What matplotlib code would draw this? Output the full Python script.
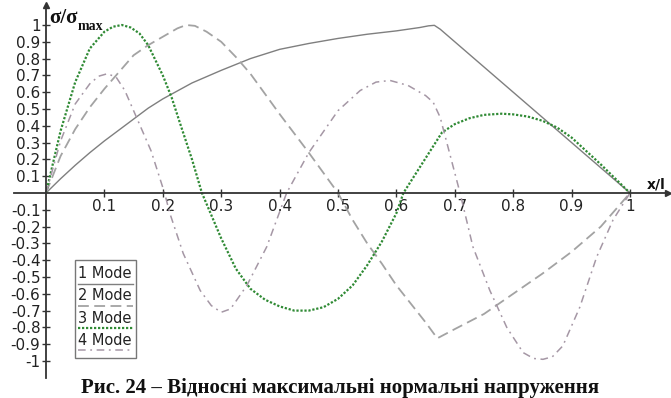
import matplotlib
matplotlib.use("Agg")
import matplotlib.pyplot as plt
from matplotlib.lines import Line2D
from matplotlib.patches import Rectangle

# ---------------- data ----------------
x_ticks = [0.1, 0.2, 0.3, 0.4, 0.5, 0.6, 0.7, 0.8, 0.9, 1.0]
x_tick_labels = ["0.1", "0.2", "0.3", "0.4", "0.5", "0.6", "0.7", "0.8", "0.9", "1"]
y_ticks = [-1, -0.9, -0.8, -0.7, -0.6, -0.5, -0.4, -0.3, -0.2, -0.1,
           0.1, 0.2, 0.3, 0.4, 0.5, 0.6, 0.7, 0.8, 0.9, 1]
y_tick_labels = ["-1", "-0.9", "-0.8", "-0.7", "-0.6", "-0.5", "-0.4", "-0.3", "-0.2", "-0.1",
                 "0.1", "0.2", "0.3", "0.4", "0.5", "0.6", "0.7", "0.8", "0.9", "1"]

mode_names = ["1 Mode", "2 Mode", "3 Mode", "4 Mode"]

x1 = [0, 0.025, 0.05, 0.075, 0.1, 0.125, 0.15, 0.175, 0.2, 0.25, 0.3, 0.35, 0.4,
      0.45, 0.5, 0.55, 0.6, 0.64, 0.655, 0.665, 0.675, 1.0]
y1 = [0, 0.085, 0.165, 0.24, 0.31, 0.375, 0.44, 0.505, 0.56, 0.655, 0.73, 0.80, 0.855,
      0.89, 0.92, 0.945, 0.965, 0.985, 0.995, 0.998, 0.975, 0.0]

x2 = [0, 0.025, 0.05, 0.075, 0.1, 0.125, 0.15, 0.175, 0.2, 0.225, 0.24, 0.255, 0.275,
      0.3, 0.325, 0.35, 0.375, 0.4, 0.425, 0.45, 0.475, 0.5, 0.525, 0.55, 0.575,
      0.6, 0.625, 0.65, 0.67, 0.7, 0.75, 0.8, 0.85, 0.9, 0.95, 1.0]
y2 = [0, 0.22, 0.38, 0.51, 0.62, 0.72, 0.82, 0.88, 0.93, 0.98, 1.0, 0.995, 0.96,
      0.90, 0.81, 0.71, 0.59, 0.47, 0.355, 0.24, 0.12, 0.0, -0.16, -0.30, -0.42,
      -0.55, -0.66, -0.77, -0.865, -0.81, -0.72, -0.60, -0.48, -0.35, -0.20, 0.0]

x3 = [0, 0.025, 0.05, 0.075, 0.1, 0.115, 0.13, 0.145, 0.16, 0.175, 0.2, 0.215, 0.23,
      0.25, 0.267, 0.3, 0.325, 0.35, 0.375, 0.4, 0.425, 0.45, 0.475, 0.5, 0.525,
      0.55, 0.575, 0.6, 0.612, 0.678, 0.7, 0.725, 0.75, 0.78, 0.8, 0.825, 0.85,
      0.875, 0.9, 0.925, 0.95, 0.975, 1.0]
y3 = [0, 0.37, 0.66, 0.86, 0.96, 0.99, 1.0, 0.985, 0.95, 0.88, 0.70, 0.57, 0.41,
      0.20, 0.0, -0.27, -0.45, -0.57, -0.635, -0.675, -0.70, -0.70, -0.68, -0.63, -0.55,
      -0.43, -0.29, -0.12, 0.0, 0.36, 0.41, 0.445, 0.465, 0.472, 0.468, 0.455, 0.43,
      0.39, 0.33, 0.25, 0.17, 0.085, 0.0]

x4 = [0, 0.025, 0.05, 0.075, 0.09, 0.105, 0.12, 0.135, 0.155, 0.18, 0.203, 0.212,
      0.235, 0.264, 0.283, 0.30, 0.316, 0.344, 0.378, 0.412, 0.45, 0.5, 0.538, 0.565,
      0.589, 0.62, 0.65, 0.663, 0.675, 0.709, 0.731, 0.76, 0.789, 0.817, 0.835, 0.851,
      0.867, 0.885, 0.914, 0.943, 0.971, 1.0]
y4 = [0, 0.31, 0.53, 0.65, 0.695, 0.71, 0.69, 0.61, 0.45, 0.25, 0.0, -0.12,
      -0.36, -0.58, -0.67, -0.71, -0.69, -0.55, -0.32, 0.0, 0.24, 0.49, 0.61, 0.66,
      0.67, 0.64, 0.58, 0.54, 0.45, 0.0, -0.32, -0.58, -0.80, -0.95, -0.985, -0.99,
      -0.975, -0.91, -0.68, -0.38, -0.16, 0.0]

# ---------------- styles ----------------
c1, c2, c3, c4 = "#7f7f7f", "#a3a3a3", "#2f8a34", "#a597a5"
st1 = dict(color=c1, lw=1.0, linestyle="-")
st2 = dict(color=c2, lw=1.3, linestyle=(0, (6, 3)))
st3 = dict(color=c3, lw=1.6, linestyle=(0, (1.0, 0.8)))
st4 = dict(color=c4, lw=1.1, linestyle=(0, (5, 3, 1.2, 3)))
styles = [st1, st2, st3, st4]

W, H = 671, 398
fig = plt.figure(figsize=(W / 100, H / 100), dpi=100)

def fx(px):
    return px / W

def fy(py):
    return 1 - py / H

ax = fig.add_axes([fx(14), fy(378), (668 - 14) / W, (378 - 5) / H])
ax.set_xlim(-32 / 584, 622 / 584)
ax.set_ylim(-185 / 168, 188 / 168)

for (xs, ys), st in zip([(x1, y1), (x2, y2), (x3, y3), (x4, y4)], styles):
    ax.plot(xs, ys, solid_joinstyle="round", **st)

axis_col = "#333333"
for s in ["top", "right"]:
    ax.spines[s].set_visible(False)
ax.spines["left"].set_position(("data", 0))
ax.spines["bottom"].set_position(("data", 0))
for s in ["left", "bottom"]:
    ax.spines[s].set_color(axis_col)
    ax.spines[s].set_linewidth(1.3)

ax.set_xticks(x_ticks)
ax.set_xticklabels(x_tick_labels)
ax.set_yticks(y_ticks)
ax.set_yticklabels(y_tick_labels)
ax.tick_params(axis="both", direction="inout", length=6, width=1.0, color=axis_col,
               labelsize=11, labelcolor="#222222")
ax.tick_params(axis="x", pad=1)
ax.tick_params(axis="y", pad=1)
for lab in ax.get_xticklabels() + ax.get_yticklabels():
    lab.set_family("DejaVu Sans")

# arrow heads
ax.plot(0, 1, marker="^", color=axis_col, markersize=5, transform=ax.get_xaxis_transform(),
        clip_on=False)
ax.plot(1, 0, marker=">", color=axis_col, markersize=5, transform=ax.get_yaxis_transform(),
        clip_on=False)

# axis labels
t = fig.text(fx(49), fy(23), "σ/σ", fontsize=15, fontweight="bold",
             family="Liberation Serif", ha="left", va="baseline", color="#111111")
ax.annotate("max", xy=(1, 0), xycoords=t, xytext=(0.3, -1.5), textcoords="offset points",
            fontsize=10, fontweight="bold", family="Liberation Serif",
            ha="left", va="baseline", color="#111111", annotation_clip=False)
fig.text(fx(647), fy(188), "x/l", fontsize=10, fontweight="bold", family="DejaVu Sans",
         ha="left", va="baseline", color="#111111")

# legend (drawn manually: text above each line sample)
fig.add_artist(Rectangle((fx(75), fy(358)), (136 - 75) / W, (358 - 260) / H,
                         transform=fig.transFigure, fill=False, edgecolor="#777777", lw=1.0))
for i, (name, st) in enumerate(zip(mode_names, styles)):
    ty = 273.0 + 22.6 * i
    ly = 283.5 + 22.3 * i
    fig.text(fx(78), fy(ty), name, fontsize=10.5, family="DejaVu Sans", ha="left",
             va="center", color="#222222")
    fig.add_artist(Line2D([fx(78), fx(133)], [fy(ly), fy(ly)], transform=fig.transFigure, **st))

# caption
fig.text(fx(340), fy(393), "Рис. 24 – Відносні максимальні нормальні напруження",
         fontsize=15, fontweight="bold", family="Liberation Serif", ha="center",
         va="baseline", color="#111111")

fig.savefig("out.png", dpi=100)
